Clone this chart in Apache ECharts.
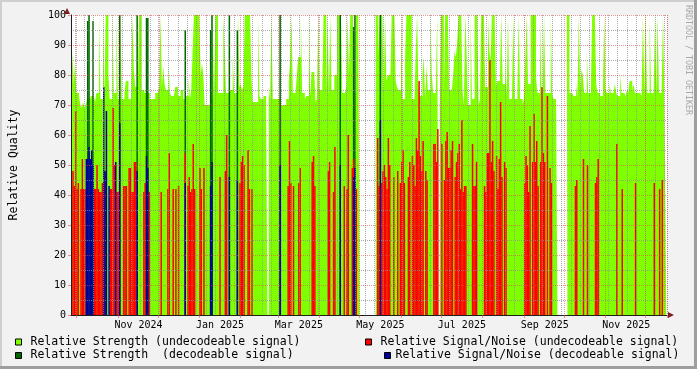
<!DOCTYPE html>
<html>
<head>
<meta charset="utf-8">
<script src="https://cdn.jsdelivr.net/npm/echarts@6/dist/echarts.min.js"></script>
<style>html,body{margin:0;padding:0;background:#f2f2f2;}#c{width:697px;height:369px;}</style>
</head>
<body>
<div id="c"></div>
<script>
// ---- data (one value per day, starting 2024-09-27) ----
const START_DATE = '2024-09-27';
const DAY_COUNT = 446;
const MONTHS = ['Jan','Feb','Mar','Apr','May','Jun','Jul','Aug','Sep','Oct','Nov','Dec'];
const Y_TICKS = [0,10,20,30,40,50,60,70,80,90,100];

// Relative Strength (undecodeable signal), daily
const strengthUndecodeable = [
 72,88,77,84,74,74,73,70,69,71,
 69,70,72,72,72,73,73,73,71,74,
 74,100,72,72,100,73,100,100,80,72,
 72,100,74,74,100,72,72,100,72,72,
 74,78,78,72,72,72,100,82,76,76,
 76,100,100,75,75,74,74,74,74,72,
 72,72,72,74,74,74,76,100,76,83,
 77,75,75,84,74,73,73,73,76,76,
 73,73,75,75,72,72,73,73,79,72,
 75,88,100,100,100,100,100,80,84,80,
 70,70,70,70,72,72,100,73,100,100,
 74,74,74,74,100,88,74,74,74,75,
 75,87,74,74,74,100,76,77,75,76,
 100,100,100,100,100,79,71,71,71,71,
 100,73,72,72,73,73,74,null,76,72,
 100,72,72,72,72,72,72,70,70,70,
 70,72,72,78,85,100,74,74,74,80,
 86,86,100,74,74,72,73,73,100,73,
 81,81,81,71,72,100,75,75,75,100,
 100,74,100,73,100,75,75,80,80,100,
 100,74,100,74,74,74,76,100,80,100,
 100,74,74,100,100,100,null,null,null,null,
 null,null,null,null,null,null,null,null,100,100,
 86,100,100,100,74,100,78,80,80,80,
 100,100,100,78,76,75,75,100,72,72,
 86,100,100,100,100,72,72,72,88,100,
 76,73,73,80,86,72,83,75,75,100,
 80,74,74,74,100,null,70,100,100,72,
 100,100,100,75,75,75,80,88,86,91,
 100,100,100,75,70,100,88,70,70,100,
 72,72,100,100,100,70,72,100,100,100,
 76,76,100,88,85,100,100,100,76,78,
 78,80,100,77,77,85,73,100,72,72,
 72,100,72,72,72,100,72,72,70,72,
 86,100,77,77,100,100,100,100,79,74,
 74,100,76,75,100,74,74,74,74,100,
 74,72,72,72,null,null,null,null,null,null,
 null,100,100,74,74,74,73,73,77,73,
 100,75,82,80,74,74,88,74,74,74,
 100,100,100,77,74,74,73,73,73,100,
 75,74,74,77,74,74,74,77,74,73,
 73,80,74,74,74,73,75,74,78,78,
 75,77,74,74,74,74,74,73,100,74,
 100,74,74,100,74,74,74,100,74,100,
 74,74,76,100,72,72
];

// Relative Strength (decodeable signal): [day index, value]
const strengthDecodeable = [
 [12,98],[13,100],[16,98],[36,100],[49,100],[56,99],[57,99],[85,95],[104,95],
 [105,100],[118,100],[124,95],[156,100],[201,100],[211,96],[212,100],[231,100]
];

// Relative Signal/Noise (undecodeable signal): [day index, value]
const snrUndecodeable = [
 [0,43],[1,48],[2,43],[3,68],[4,42],[5,44],[7,42],[8,52],[9,42],[10,42],
 [17,42],[18,42],[19,50],[20,42],[21,41],[22,41],[23,44],[25,48],[29,42],[30,42],
 [31,69],[32,50],[34,41],[35,41],[39,43],[40,43],[41,43],[43,49],[44,49],[45,41],
 [46,41],[47,51],[48,51],[54,41],[55,44],[58,41],[67,41],[72,42],[73,54],[76,42],
 [78,42],[80,43],[85,54],[87,43],[88,46],[89,41],[90,42],[91,57],[92,42],[96,49],
 [97,42],[99,49],[111,46],[115,48],[116,60],[126,44],[127,51],[128,53],[129,50],[132,55],
 [133,42],[135,42],[162,43],[163,58],[164,44],[166,43],[170,44],[171,49],[180,51],[181,53],
 [182,43],[192,48],[193,51],[196,41],[197,56],[204,43],[206,42],[207,60],[210,49],[211,52],
 [213,42],[229,59],[230,43],[232,44],[233,48],[234,50],[235,46],[236,42],[237,59],[238,50],
 [241,46],[244,48],[246,44],[247,51],[248,55],[249,44],[252,46],[253,51],[255,53],[256,50],
 [257,43],[258,59],[259,55],[260,78],[261,53],[262,48],[263,58],[265,48],[266,45],[271,57],
 [272,57],[273,51],[274,62],[277,57],[279,45],[280,58],[281,61],[282,49],[283,49],[284,55],
 [285,58],[287,46],[288,51],[289,54],[290,57],[291,42],[292,65],[293,41],[294,43],[295,43],
 [300,57],[301,43],[302,43],[303,51],[309,43],[310,41],[311,54],[312,54],[313,85],[314,51],
 [315,58],[316,48],[318,53],[319,42],[320,52],[321,71],[322,46],[324,51],[325,49],[339,44],
 [340,53],[341,50],[342,41],[343,63],[345,51],[346,67],[347,51],[348,58],[349,43],[351,51],
 [352,76],[353,54],[354,51],[356,73],[358,49],[359,44],[377,43],[378,45],[383,52],[386,50],
 [392,44],[393,46],[394,52],[408,57],[412,42],[422,44],[436,44],[440,42],[442,45]
];

// Relative Signal/Noise (decodeable signal): [day index, value]
const snrDecodeable = [
 [11,52],[12,52],[13,56],[14,52],[15,55],[16,50],[24,76],[25,48],[26,68],[28,43],
 [33,51],[36,64],[49,48],[56,53],[57,49],[85,44],[104,43],[105,51],[118,46],[124,45],
 [156,50],[201,50],[211,46],[212,49],[231,65]
];

const SERIES_NAMES = [
 'Relative Strength (undecodeable signal)',
 'Relative Strength  (decodeable signal)',
 'Relative Signal/Noise (undecodeable signal)',
 'Relative Signal/Noise (decodeable signal)'
];

// ---- build categories / full series ----
const t0 = Date.parse(START_DATE + 'T00:00:00Z');
const dates = [];
for (let i = 0; i < DAY_COUNT; i++) dates.push(new Date(t0 + i * 86400000).toISOString().slice(0, 10));
function expand(pairs) {
  const a = new Array(DAY_COUNT).fill(null);
  pairs.forEach(p => { a[p[0]] = p[1]; });
  return a;
}
const dayOf = v => +v.slice(8, 10);
const monOf = v => +v.slice(5, 7);
const isMonthStart = (i, v) => dayOf(v) === 1;
const isMonday = (i, v) => new Date(v + 'T00:00:00Z').getUTCDay() === 1;
const isLabelDay = (i, v) => dayOf(v) === 16 && monOf(v) % 2 === 1;

const MONO = 'DejaVu Sans Mono';
const MAJOR = 'rgba(222,79,79,0.6)';
const MINOR = 'rgba(143,143,143,0.75)';

const chart = echarts.init(document.getElementById('c'), null, { renderer: 'canvas', width: 697, height: 369 });

const legendBase = {
  orient: 'horizontal', icon: 'rect', itemWidth: 6, itemHeight: 6, padding: 0,
  selectedMode: false,
  itemStyle: { borderColor: '#000', borderWidth: 1 },
};
function legendAt(name, left, top, pad) {
  return Object.assign({}, legendBase, {
    data: [name], left: left, top: top,
    textStyle: { fontFamily: MONO, fontSize: 11.5, color: '#000', padding: [0, 0, 0, pad], lineHeight: 14 }
  });
}

chart.setOption({
  backgroundColor: '#f2f2f2',
  animation: false,
  textStyle: { fontFamily: MONO },
  grid: { left: 67, top: 15, width: 600, height: 300, show: true, backgroundColor: '#ffffff', borderWidth: 0 },
  legend: [
    legendAt(SERIES_NAMES[0], 15, 335, 4),
    legendAt(SERIES_NAMES[2], 365, 335, 4),
    legendAt(SERIES_NAMES[1], 15, 348.5, 4),
    legendAt(SERIES_NAMES[3], 384, 348.5, 0)
  ],
  xAxis: [
    {
      type: 'category', data: dates, boundaryGap: true, z: 6,
      axisLine: { show: true, onZero: false, lineStyle: { color: '#1f1f1f', width: 1 } },
      axisTick: { show: true, interval: isMonthStart, length: 3, lineStyle: { color: MAJOR } },
      axisLabel: {
        interval: isLabelDay, margin: 5, fontFamily: MONO, fontSize: 10, color: '#000',
        formatter: v => MONTHS[monOf(v) - 1] + ' ' + v.slice(0, 4)
      },
      splitLine: { show: true, interval: isMonthStart, lineStyle: { color: MAJOR, type: [1, 1], width: 1 } }
    },
    {
      type: 'category', data: dates, boundaryGap: true, z: 5, position: 'bottom',
      axisLine: { show: false }, axisTick: { show: false }, axisLabel: { show: false },
      splitLine: { show: true, interval: isMonday, lineStyle: { color: MINOR, type: [1, 1], width: 1 } }
    }
  ],
  yAxis: [
    {
      type: 'value', min: Y_TICKS[0], max: Y_TICKS[Y_TICKS.length - 1], interval: 10, z: 6,
      axisLine: { show: true, lineStyle: { color: '#1f1f1f', width: 1 } },
      axisTick: { show: true, length: 3, lineStyle: { color: MAJOR } },
      axisLabel: { margin: 5, fontFamily: MONO, fontSize: 10, color: '#000' },
      splitLine: { show: true, lineStyle: { color: MAJOR, type: [1, 1], width: 1 } },
      name: 'Relative Quality', nameLocation: 'middle', nameGap: 51,
      nameTextStyle: { fontFamily: MONO, fontSize: 11.5, color: '#000' }
    },
    {
      type: 'value', min: Y_TICKS[0], max: Y_TICKS[Y_TICKS.length - 1], interval: 5, z: 5, position: 'left',
      axisLine: { show: false }, axisTick: { show: false }, axisLabel: { show: false },
      splitLine: { show: true, lineStyle: { color: ['rgba(0,0,0,0)', MINOR], type: [1, 1], width: 1 } }
    }
  ],
  series: [
    {
      name: SERIES_NAMES[0], type: 'line', step: 'middle', data: strengthUndecodeable,
      xAxisIndex: 0, yAxisIndex: 0, color: '#80ff00',
      showSymbol: false, symbol: 'none', connectNulls: false, silent: true,
      lineStyle: { width: 0, color: '#80ff00' }, areaStyle: { color: '#80ff00', opacity: 1 }, z: 2
    },
    {
      name: SERIES_NAMES[1], type: 'bar', data: expand(strengthDecodeable),
      xAxisIndex: 0, yAxisIndex: 0, color: '#006600', itemStyle: { color: '#006600' },
      barWidth: 1.5, barGap: '-100%', silent: true, z: 3
    },
    {
      name: SERIES_NAMES[2], type: 'bar', data: expand(snrUndecodeable),
      xAxisIndex: 0, yAxisIndex: 0, color: '#ff0000', itemStyle: { color: '#ff0000' },
      barWidth: 1.5, barGap: '-100%', silent: true, z: 3
    },
    {
      name: SERIES_NAMES[3], type: 'bar', data: expand(snrDecodeable),
      xAxisIndex: 0, yAxisIndex: 0, color: '#000099', itemStyle: { color: '#000099' },
      barWidth: 1.5, barGap: '-100%', silent: true, z: 3
    }
  ],
  graphic: [
    { type: 'rect', silent: true, shape: { x: 0, y: 0, width: 697, height: 2 }, style: { fill: '#cfcfcf' } },
    { type: 'rect', silent: true, shape: { x: 0, y: 0, width: 2, height: 369 }, style: { fill: '#cfcfcf' } },
    { type: 'rect', silent: true, shape: { x: 0, y: 366, width: 697, height: 3 }, style: { fill: '#9e9e9e' } },
    { type: 'rect', silent: true, shape: { x: 694, y: 0, width: 3, height: 369 }, style: { fill: '#9e9e9e' } },
    { type: 'polygon', silent: true, z: 10, shape: { points: [[668, 312], [674, 315], [668, 318]] }, style: { fill: '#801f1f' } },
    { type: 'polygon', silent: true, z: 10, shape: { points: [[64, 14], [67, 8], [70, 14]] }, style: { fill: '#801f1f' } },
    {
      type: 'text', silent: true, x: 688, y: 5, rotation: -Math.PI / 2,
      style: { text: 'RRDTOOL / TOBI OETIKER', font: '8.3px "DejaVu Sans Mono"', fill: '#a8a8a8', align: 'left', verticalAlign: 'middle' }
    }
  ]
});
</script>
</body>
</html>
